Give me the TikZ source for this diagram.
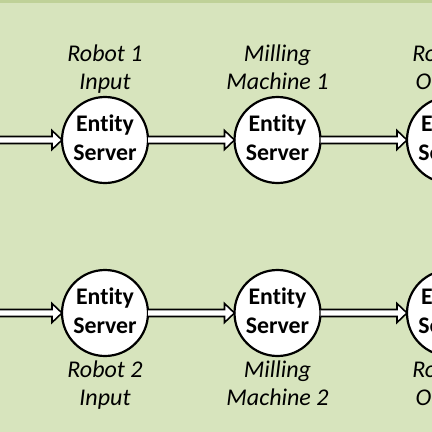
\documentclass[tikz,border=0pt]{standalone}
\usepackage{fontspec}
\setmainfont{Carlito}[Ligatures=NoCommon]
\usetikzlibrary{calc}
\definecolor{bggreen}{HTML}{D7E4BD}
\definecolor{bandgreen}{HTML}{BFD198}
\newcommand{\blockarrow}[2]{%
  \draw[barrow] ($(#1)+(0,-3.5)$) -- ($(#2)+(-10,-3.5)$) -- ($(#2)+(-10,-9.5)$) -- (#2)
    -- ($(#2)+(-10,9.5)$) -- ($(#2)+(-10,3.5)$) -- ($(#1)+(0,3.5)$);}
\begin{document}
\begin{tikzpicture}[x=1pt,y=-1pt,
  stext/.style={align=center, inner sep=0pt, font=\fontsize{23.8}{29.5}\selectfont\bfseries},
  server/.style={circle, draw=black, line width=2.2pt, fill=white, minimum size=86pt,
    inner sep=0pt, outer sep=0pt,
    label={[stext]center:{\strut Entity\\\strut Server}}},
  lbl/.style={align=center, inner sep=0pt, font=\fontsize{24}{27.5}\selectfont\itshape},
  barrow/.style={draw=black, fill=white, line width=1.6pt, line join=miter}]
\useasboundingbox (0,0) rectangle (432,432);
\fill[bggreen] (0,0) rectangle (432,432);
\fill[bandgreen] (0,0) rectangle (432,2.5);
\begin{scope}
\clip (0,0) rectangle (432,432);
% top row
\coordinate (in1) at (-25,140);
\node[server] (s1) at (105,140) {};
\node[server] (s2) at (277.5,140) {};
\node[server] (s3) at (450,140) {};
\node[lbl] (l1) at (105,69.75) {\strut Robot 1\\\strut Input};
\node[lbl] (l2) at (277.5,69.75) {\strut Milling\\\strut Machine 1};
\node[lbl] (l3) at (450,69.75) {\strut Robot 1\\\strut Output};
\blockarrow{in1}{s1.west}
\blockarrow{s1.east}{s2.west}
\blockarrow{s2.east}{s3.west}
% bottom row
\coordinate (in2) at (-25,313);
\node[server] (t1) at (105,313) {};
\node[server] (t2) at (277.5,313) {};
\node[server] (t3) at (450,313) {};
\node[lbl] (m1) at (105,386) {\strut Robot 2\\\strut Input};
\node[lbl] (m2) at (277.5,386) {\strut Milling\\\strut Machine 2};
\node[lbl] (m3) at (450,386) {\strut Robot 2\\\strut Output};
\blockarrow{in2}{t1.west}
\blockarrow{t1.east}{t2.west}
\blockarrow{t2.east}{t3.west}
\end{scope}
\end{tikzpicture}
\end{document}
